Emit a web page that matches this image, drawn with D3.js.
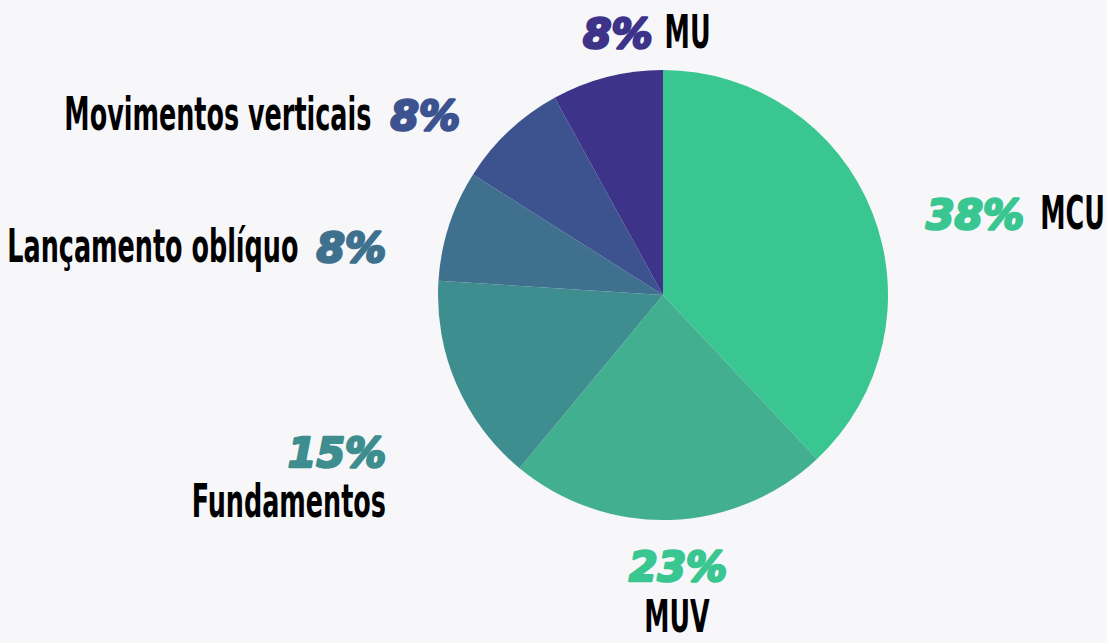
<!DOCTYPE html>
<html>
<head>
<meta charset="utf-8">
<script src="https://cdn.jsdelivr.net/npm/d3@7"></script>
<style>
  html, body { margin: 0; padding: 0; background: #f7f7f9; }
  svg { display: block; }
</style>
</head>
<body>
<svg id="chart"></svg>
<script>
// Slices, clockwise from 12 o'clock
const categories = ['MCU', 'MUV', 'Fundamentos', 'Lançamento oblíquo', 'Movimentos verticais', 'MU'];
const values = [38, 23, 15, 8, 8, 8];
const sliceColors = ['#3ac690', '#41af90', '#3f8e8f', '#3f718f', '#3c5390', '#3d3489'];
const pctColors = ['#3ac690', '#3ac690', '#3f8e8f', '#3f718f', '#3c5390', '#3d3489'];

const width = 1107;
const height = 643;
const cx = 663, cy = 295, radius = 225;

const svg = d3.select('#chart')
    .attr('width', width)
    .attr('height', height);

svg.append('rect')
    .attr('width', width)
    .attr('height', height)
    .attr('fill', '#f7f7f9');

const data = categories.map((c, i) => ({ name: c, value: values[i], color: sliceColors[i], pctColor: pctColors[i] }));

const pie = d3.pie()
    .value(d => d.value)
    .sort(null);

const arc = d3.arc()
    .innerRadius(0)
    .outerRadius(radius);

const g = svg.append('g')
    .attr('transform', `translate(${cx},${cy})`);

g.selectAll('path')
    .data(pie(data))
    .enter().append('path')
    .attr('d', arc)
    .attr('fill', d => d.data.color);

// label layout: where each label block sits and how it is arranged
const labelFont = "'DejaVu Sans Condensed', 'Liberation Sans Narrow', sans-serif";
const pctFont = "'DejaVu Sans', sans-serif";
const squeeze = 0.615;

const layout = {
    'MCU':                  { x: 926, y: 229, mode: 'pct-left', gap: 16 },
    'MUV':                  { x: 678, y: 581, mode: 'stack-center' },
    'Fundamentos':          { x: 386, y: 467, mode: 'stack-right' },
    'Lançamento oblíquo':   { x: 386, y: 262, mode: 'pct-right', gap: 18 },
    'Movimentos verticais': { x: 460, y: 130, mode: 'pct-right', gap: 19 },
    'MU':                   { x: 583, y: 48,  mode: 'pct-left', gap: 12 }
};

function pctText(sel, d) {
    return sel.append('text')
        .attr('font-family', pctFont)
        .attr('font-weight', 'bold')
        .attr('font-style', 'italic')
        .attr('font-size', 41)
        .attr('fill', d.pctColor)
        .attr('stroke', d.pctColor)
        .attr('stroke-width', 2.6)
        .attr('stroke-linejoin', 'round')
        .text(d.value + '%');
}

function nameText(sel, d, size) {
    return sel.append('text')
        .attr('font-family', labelFont)
        .attr('font-weight', 'bold')
        .attr('font-size', size || 46)
        .attr('fill', '#000')
        .text(d.name);
}

data.forEach(d => {
    const L = layout[d.name];
    const lg = svg.append('g');
    if (L.mode === 'pct-left') {
        const p = pctText(lg, d).attr('x', L.x).attr('y', L.y);
        const pw = p.node().getComputedTextLength();
        nameText(lg.append('g').attr('transform', `translate(${L.x + pw + L.gap},${L.y}) scale(${squeeze},1)`), d);
    } else if (L.mode === 'pct-right') {
        const p = pctText(lg, d).attr('x', L.x).attr('y', L.y).attr('text-anchor', 'end');
        const pw = p.node().getComputedTextLength();
        nameText(lg.append('g').attr('transform', `translate(${L.x - pw - L.gap},${L.y}) scale(${squeeze},1)`), d)
            .attr('text-anchor', 'end');
    } else if (L.mode === 'stack-right') {
        pctText(lg, d).attr('x', L.x).attr('y', L.y).attr('text-anchor', 'end');
        nameText(lg.append('g').attr('transform', `translate(${L.x},${L.y + 50}) scale(${squeeze},1)`), d)
            .attr('text-anchor', 'end');
    } else {
        pctText(lg, d).attr('x', L.x).attr('y', L.y).attr('text-anchor', 'middle');
        nameText(lg.append('g').attr('transform', `translate(${L.x - 1},${L.y + 51}) scale(${squeeze * 1.04},1)`), d, 44)
            .attr('text-anchor', 'middle');
    }
});
</script>
</body>
</html>
